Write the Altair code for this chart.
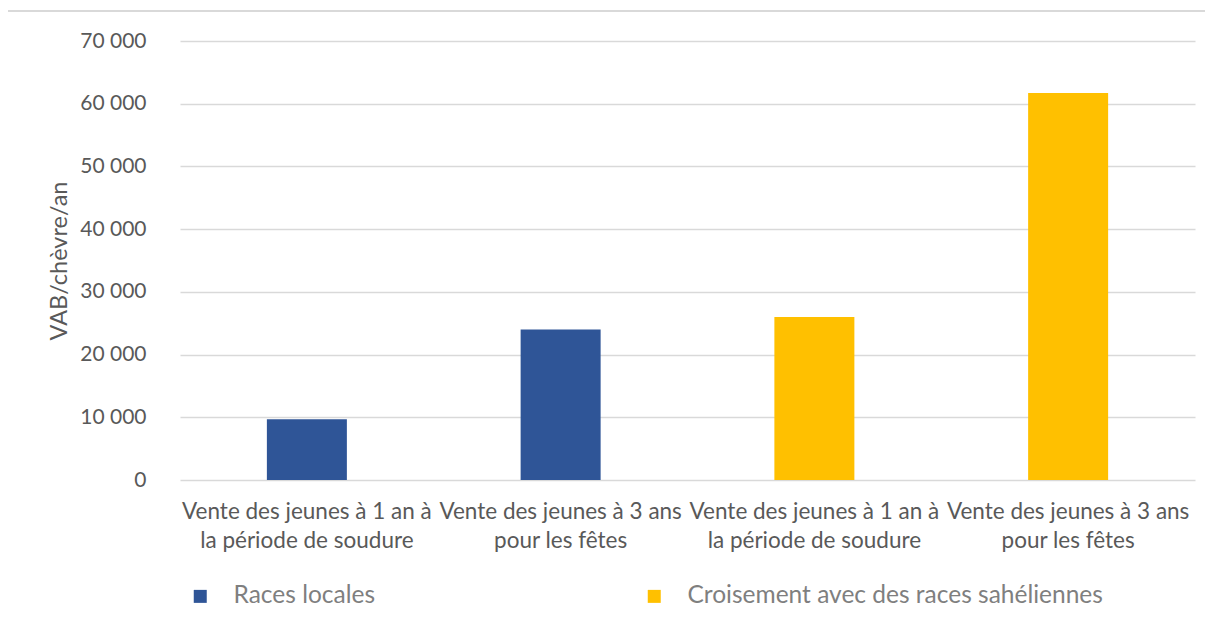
import json
import altair as alt
import pandas as pd

# ---- data ----
category_lines = [
    ["Vente des jeunes à 1 an à", "la période de soudure"],
    ["Vente des jeunes à 3 ans", "pour les fêtes"],
    ["Vente des jeunes à 1 an à", "la période de soudure"],
    ["Vente des jeunes à 3 ans", "pour les fêtes"],
]
series = ["Races locales", "Races locales",
          "Croisement avec des races sahéliennes", "Croisement avec des races sahéliennes"]
values = [9700, 24000, 26000, 61700]
series_names = ["Races locales", "Croisement avec des races sahéliennes"]
series_colors = ["#2F5597", "#FFC000"]
y_ticks = [0, 10000, 20000, 30000, 40000, 50000, 60000, 70000]

df = pd.DataFrame({"idx": list(range(len(values))), "serie": series, "val": values})

W, H = 1015, 439
FONT = "Lato"

label_expr = json.dumps(category_lines, ensure_ascii=False) + "[datum.value]"

bars = alt.Chart(df).mark_bar(size=80).encode(
    x=alt.X("idx:O", title=None,
            axis=alt.Axis(labelExpr=label_expr, labelAngle=0, labelFontSize=22.5,
                          labelColor="#595959", labelPadding=20, labelLineHeight=29,
                          labelBaseline="top", labelLimit=400, labelOverlap=False,
                          domain=False, ticks=False, labelFont=FONT),
            scale=alt.Scale(paddingInner=0, paddingOuter=0)),
    y=alt.Y("val:Q", title="VAB/chèvre/an",
            scale=alt.Scale(domain=[0, 70000]),
            axis=alt.Axis(values=y_ticks,
                          labelExpr="replace(format(datum.value, ','), ',', ' ')",
                          labelFontSize=21, labelColor="#595959", labelPadding=34,
                          labelFont=FONT, domain=False, ticks=False,
                          gridColor="#d9d9d9", gridWidth=1.5,
                          titleFont=FONT, titleFontSize=23.5, titleFontWeight="normal",
                          titleColor="#595959", titleX=-121, titleY=H / 2,
                          titleAngle=270, titleAlign="center", titleBaseline="middle")),
    color=alt.Color("serie:N", title=None,
                    scale=alt.Scale(domain=series_names, range=series_colors),
                    legend=alt.Legend(orient="none", legendX=8, legendY=543,
                                      direction="horizontal", symbolType="square",
                                      symbolSize=169, symbolStrokeWidth=0,
                                      labelFontSize=24.5, labelFont=FONT,
                                      labelColor="#7f7f7f", labelOffset=21,
                                      columnPadding=266, labelLimit=600)),
)

frame_left = alt.Chart(df).mark_rule(color="#d9d9d9", strokeWidth=1.5).encode(
    x=alt.value(-173), y=alt.value(-30), y2=alt.value(H + 140))
frame_top = alt.Chart(df).mark_rule(color="#d9d9d9", strokeWidth=1.5).encode(
    x=alt.value(-173), x2=alt.value(W + 40), y=alt.value(-30))

chart = alt.layer(frame_left, frame_top, bars).properties(
    width=W, height=H,
    autosize=alt.AutoSizeParams(type="none"),
    padding={"left": 172, "top": 33, "right": 10, "bottom": 130},
).configure_view(stroke=None).configure_axisY(grid=True).configure_axisX(grid=False)

chart.save("out.html", embed_options={"renderer": "svg", "actions": False})
